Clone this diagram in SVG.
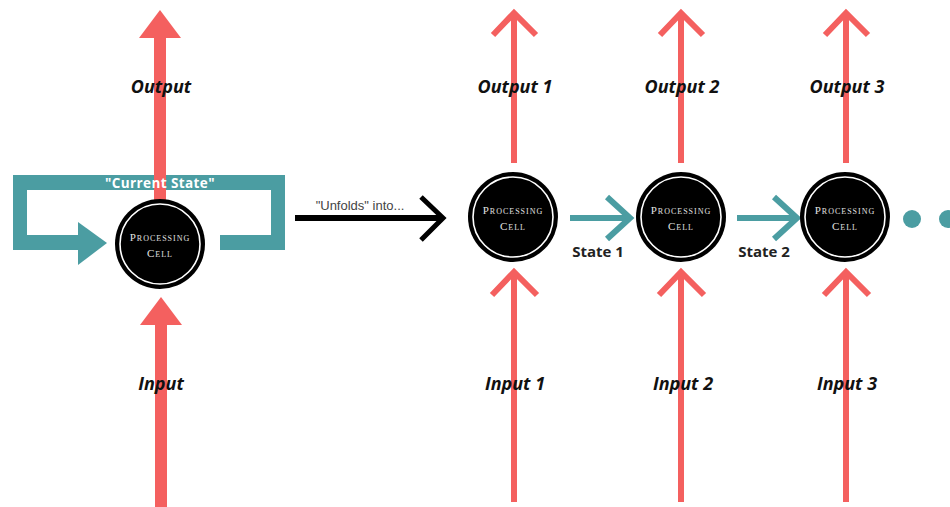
<svg xmlns="http://www.w3.org/2000/svg" width="950" height="507" viewBox="0 0 950 507">
<defs>
<style>
.red{fill:#f4605f}
.redl{stroke:#f4605f;stroke-width:6;fill:none;stroke-linecap:butt}
.teal{fill:#4b9da2}
.teall{stroke:#4b9da2;stroke-width:6;fill:none}
.lbl{font-family:"Open Sans","Liberation Sans",sans-serif;font-weight:bold;font-style:italic;font-size:18px;fill:#111;text-anchor:middle}
.st{font-family:"Open Sans","Liberation Sans",sans-serif;font-weight:bold;font-size:15px;fill:#222;text-anchor:middle}
.cell{font-family:"Liberation Serif",serif;font-variant:small-caps;font-size:11px;fill:#e0e0e0;text-anchor:middle;letter-spacing:1px}
</style>
<g id="cellShape">
<circle r="45" fill="#000"/>
<circle r="40" fill="none" stroke="#fff" stroke-width="1.6"/>
<text class="cell" y="-3">Processing</text>
<text class="cell" y="13">Cell</text>
</g>
</defs>
<rect width="950" height="507" fill="#fff"/>

<g id="connectors">
<g id="loop">
<rect class="teal" x="13" y="175" width="272" height="15"/>
<rect class="teal" x="13" y="175" width="14" height="75"/>
<rect class="teal" x="13" y="235" width="70" height="15"/>
<polygon class="teal" points="78,222 107,243 78,265"/>
<rect class="teal" x="271" y="175" width="14" height="75"/>
<rect class="teal" x="220" y="235" width="65" height="15"/>
</g>
<rect class="red" x="154" y="36" width="12" height="164"/>
<polygon class="red" points="160,10 181,38 139,38"/>
<rect class="red" x="155" y="324" width="12" height="183"/>
<polygon class="red" points="161,297 182,325 140,325"/>
<line x1="295" y1="218" x2="442" y2="218" stroke="#000" stroke-width="6"/>
<polyline points="421,197 443,218 421,240" fill="none" stroke="#000" stroke-width="5"/>
<line class="redl" x1="514" y1="163" x2="514" y2="14"/>
<polyline class="redl" points="493,35 514,13 536,35"/>
<line class="redl" x1="681" y1="163" x2="681" y2="14"/>
<polyline class="redl" points="660,35 681,13 703,35"/>
<line class="redl" x1="846" y1="163" x2="846" y2="14"/>
<polyline class="redl" points="825,35 846,13 868,35"/>
<line class="redl" x1="514" y1="502" x2="514" y2="273"/>
<polyline class="redl" points="492,295 514,272 537,295"/>
<line class="redl" x1="681" y1="502" x2="681" y2="273"/>
<polyline class="redl" points="659,295 681,272 704,295"/>
<line class="redl" x1="846" y1="502" x2="846" y2="273"/>
<polyline class="redl" points="824,295 846,272 869,295"/>
<line class="teall" x1="570" y1="218" x2="630" y2="218"/>
<polyline class="teall" points="607,197 630,218 607,239"/>
<line class="teall" x1="737" y1="218" x2="796" y2="218"/>
<polyline class="teall" points="774,197 797,218 774,239"/>
</g>

<g id="labels">
<text x="160" y="188" font-family="Open Sans,Liberation Sans,sans-serif" font-weight="bold" font-size="13.5" fill="#fff" text-anchor="middle" letter-spacing="0.4">"Current State"</text>
<text class="lbl" x="161" y="93">Output</text>
<text class="lbl" x="161" y="390">Input</text>
<text x="360" y="210" font-family="Liberation Sans,sans-serif" font-size="13" fill="#444" text-anchor="middle">"Unfolds" into...</text>
<text class="lbl" x="515" y="93">Output 1</text>
<text class="lbl" x="682" y="93">Output 2</text>
<text class="lbl" x="847" y="93">Output 3</text>
<text class="lbl" x="515" y="390">Input 1</text>
<text class="lbl" x="683" y="390">Input 2</text>
<text class="lbl" x="847" y="390">Input 3</text>
<text class="st" x="598" y="257">State 1</text>
<text class="st" x="764" y="257">State 2</text>
</g>

<g id="cell0"><use href="#cellShape" transform="translate(160,244)"/></g>
<g id="cell1"><use href="#cellShape" transform="translate(513,217)"/></g>
<g id="cell2"><use href="#cellShape" transform="translate(681,217)"/></g>
<g id="cell3"><use href="#cellShape" transform="translate(845,217)"/></g>
<g id="dots">
<circle class="teal" cx="912" cy="219" r="9"/>
<circle class="teal" cx="948" cy="219" r="9"/>
</g>
</svg>
